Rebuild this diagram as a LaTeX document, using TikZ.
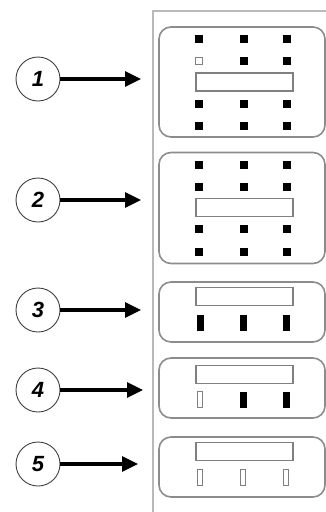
\documentclass[tikz,border=0pt]{standalone}
\usepackage{fontspec}
\setsansfont{Liberation Sans}
\usetikzlibrary{arrows.meta}
\begin{document}
\begin{tikzpicture}[x=1pt,y=-1pt,
  tray/.style={draw=gray!90,line width=1.6pt,rounded corners=12pt,inner sep=0pt},
  slot/.style={draw=gray,line width=1.1pt,fill=white,inner sep=0pt,minimum width=97pt,minimum height=18pt},
  dot/.style={fill=black,inner sep=0pt,minimum size=8pt},
  opendot/.style={draw=gray,line width=0.9pt,fill=white,inner sep=0pt,minimum size=6.5pt},
  peg/.style={fill=black,inner sep=0pt,minimum width=7pt,minimum height=16pt},
  openpeg/.style={draw=gray,line width=1pt,fill=white,inner sep=0pt,minimum width=5.5pt,minimum height=16pt},
  num/.style={circle,draw=gray!50!black,line width=0.9pt,minimum size=44pt,inner sep=0pt,
    font=\sffamily\bfseries\itshape\fontsize{22}{22}\selectfont},
  feed/.style={line width=3.2pt,-{Triangle[length=16pt,width=15pt]}}]
\useasboundingbox (0,0) rectangle (326,512);
% frame
\draw[gray!55,line width=1.1pt] (326,11) -- (153,11) -- (153,512);
% trays
\node[tray,minimum width=166pt,minimum height=110pt] (tray1) at (242,82) {};
\node[tray,minimum width=166pt,minimum height=111pt] (tray2) at (242,208) {};
\node[tray,minimum width=166pt,minimum height=60pt] (tray3) at (242,312) {};
\node[tray,minimum width=166pt,minimum height=60pt] (tray4) at (242,388) {};
\node[tray,minimum width=166pt,minimum height=60pt] (tray5) at (242,467) {};
% slots
\node[slot] (slot1) at (244.5,82) {};
\node[slot] (slot2) at (244.5,207.5) {};
\node[slot] (slot3) at (244.5,296.5) {};
\node[slot] (slot4) at (244.5,374.5) {};
\node[slot] (slot5) at (244.5,451.5) {};
% tray 1 dots
\foreach \x in {199,244,287} {
  \foreach \y in {39,104,126} \node[dot] at (\x,\y) {};
}
\node[opendot] at (199,61) {};
\node[dot] at (244,61) {};
\node[dot] at (287,61) {};
% tray 2 dots
\foreach \x in {199,244,287} {
  \foreach \y in {165,187,229,252} \node[dot] at (\x,\y) {};
}
% pegs
\foreach \x in {200,243,286} \node[peg] at (\x,323) {};
\node[openpeg] at (200,399.5) {};
\node[peg] at (243,399.5) {};
\node[peg] at (286,399.5) {};
\foreach \x in {200,243,286} \node[openpeg] at (\x,477) {};
% numbers and arrows
\node[num] (n1) at (38,79) {1};
\node[num] (n2) at (38,200) {2};
\node[num] (n3) at (38,310) {3};
\node[num] (n4) at (38,390) {4};
\node[num] (n5) at (38,464) {5};
\coordinate (t1) at (141,79);
\coordinate (t2) at (141,200);
\coordinate (t3) at (141,310);
\coordinate (t4) at (143,390);
\coordinate (t5) at (138,464);
\foreach \i in {1,...,5} \draw[feed] (n\i) -- (t\i);
\end{tikzpicture}
\end{document}
